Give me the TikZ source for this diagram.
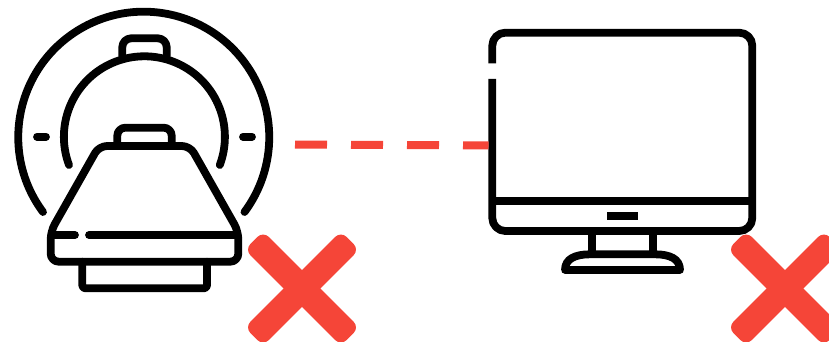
\documentclass[tikz,border=0pt]{standalone}
\usepackage{tikz}
\usetikzlibrary{
  positioning
}
\usepackage{xcolor}
\definecolor{alert}{RGB}{245,69,56}

\begin{document}
\begin{tikzpicture}[
  x=1pt, y=1pt, yscale=-1,
  icon/.style={draw=black, line width=7.8pt, line cap=round, line join=round},
  link/.style={draw=alert, line width=8pt, dash pattern=on 32pt off 24pt},
  crossbar/.style={fill=alert, rounded corners=8pt, inner sep=0pt,
                   minimum width=136pt, minimum height=26pt}
]
\useasboundingbox (0,0) rectangle (829,342);

% Scanner rings
\draw[icon] (43,212) arc (143.4:396.6:125.5);
\draw[icon] (69,165) arc (159.5:380.5:80.5);
\draw[icon] (37,136.7) -- (46,136.7);
\draw[icon] (243,136.7) -- (252,136.7);
\draw[icon, rounded corners=9pt] (122.3,56) -- (122.3,38.3) -- (166.7,38.3) -- (166.7,56);

% Scanner table
\draw[icon, rounded corners=8pt] (117.3,146) -- (117.3,127.7) -- (171.7,127.7) -- (171.7,146);
\draw[icon, rounded corners=8pt] (144.5,146) -- (190,146) -- (238.3,231.3) -- (238.3,261.7)
  -- (50.7,261.7) -- (50.7,231.3) -- (99,146) -- cycle;
\draw[icon] (54,235) -- (75,235);
\draw[icon] (89,235) -- (235,235);
\draw[icon, rounded corners=3pt] (82.3,261.7) -- (82.3,288.3) -- (207,288.3) -- (207,261.7);

% Monitor
\draw[icon, line cap=butt, rounded corners=13pt] (492.3,63.3) -- (492.3,32.7) -- (752.3,32.7)
  -- (752.3,231) -- (492.3,231) -- (492.3,79);
\draw[icon, line cap=butt] (492.3,201.3) -- (752.3,201.3);
\node[fill=black, inner sep=0pt, minimum width=30.4pt, minimum height=8pt] (button) at (622.5,216.3) {};
\draw[icon, line cap=butt] (592.3,231) -- (592.3,254.3);
\draw[icon, line cap=butt] (653.3,231) -- (653.3,254.3);
\draw[icon] (565,270) .. controls (565,259) and (575,254.3) .. (590,254.3) -- (655,254.3)
  .. controls (670,254.3) and (680,259) .. (680,270) -- cycle;

% Link
\coordinate (scanner) at (295,144.5);
\coordinate (monitor) at (488.5,145.5);
\draw[link] (scanner) -- (monitor);

% Crosses
\node[crossbar, rotate=45] (crossa) at (302,288.5) {};
\node[crossbar, rotate=-45] (crossb) at (302,288.5) {};
\node[crossbar, rotate=45] (crossc) at (785,288.5) {};
\node[crossbar, rotate=-45] (crossd) at (785,288.5) {};

\end{tikzpicture}
\end{document}
